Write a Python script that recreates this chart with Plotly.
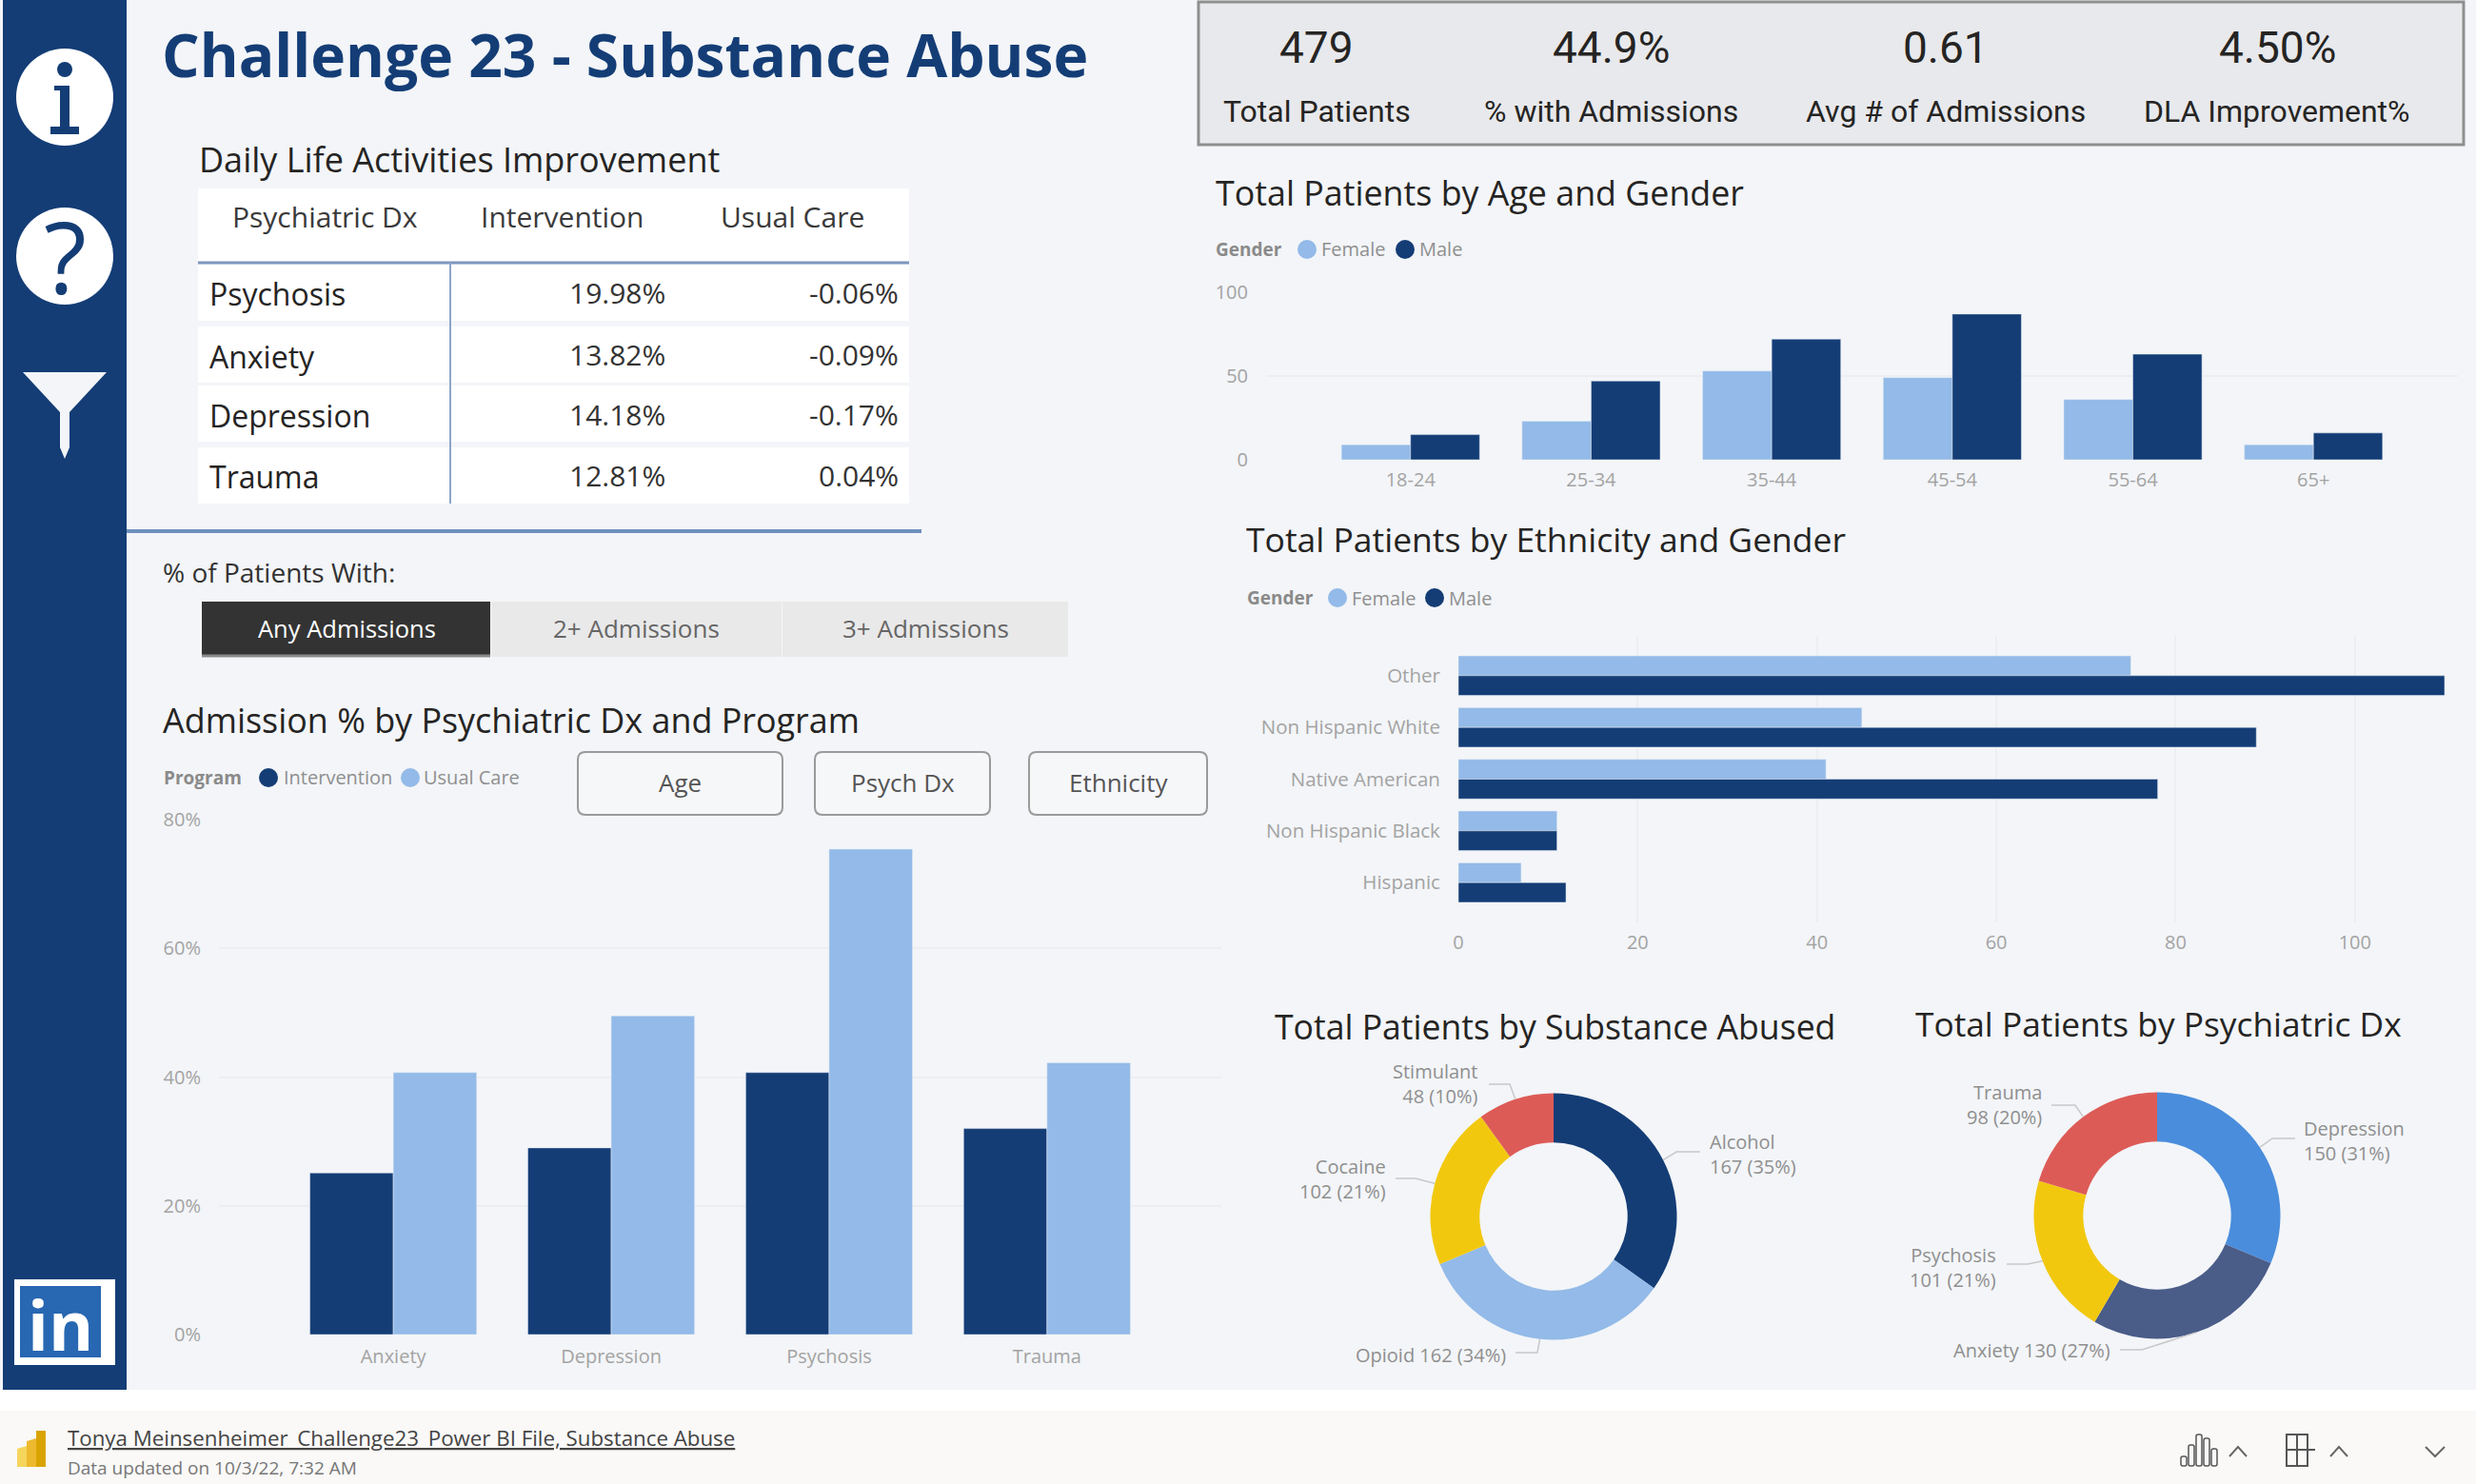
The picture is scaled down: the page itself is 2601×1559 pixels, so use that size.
import math
import plotly.graph_objects as go

W, H = 2601, 1559
FONT = "Open Sans"
NAVY, LIGHT = "#143D76", "#93BAE8"
BG = "#F3F5F8"
GRID = "#ECEEF1"
TICK = "#A3A3A3"

# ---------- data ----------
dx_cats = ["Anxiety", "Depression", "Psychosis", "Trauma"]
adm_intervention = [25.1, 29, 40.7, 32]
adm_usual = [40.7, 49.5, 75.4, 42.2]
age_cats = ["18-24", "25-34", "35-44", "45-54", "55-64", "65+"]
age_female = [9, 23, 53, 49, 36, 9]
age_male = [15, 47, 72, 87, 63, 16]
eth_cats = ["Other", "Non Hispanic White", "Native American", "Non Hispanic Black", "Hispanic"]
eth_female = [75, 45, 41, 11, 7]
eth_male = [110, 89, 78, 11, 12]
sub_labels = ["Alcohol", "Opioid", "Cocaine", "Stimulant"]
sub_values = [167, 162, 102, 48]
sub_colors = [NAVY, LIGHT, "#F2C80F", "#DD5B57"]
psy_labels = ["Depression", "Anxiety", "Psychosis", "Trauma"]
psy_values = [150, 130, 101, 98]
psy_colors = ["#4A8DDC", "#4A5C88", "#F2C80F", "#DD5B57"]
table_rows = ["Psychosis", "Anxiety", "Depression", "Trauma"]
table_int = ["19.98%", "13.82%", "14.18%", "12.81%"]
table_usual = ["-0.06%", "-0.09%", "-0.17%", "0.04%"]
kpi_values = ["479", "44.9%", "0.61", "4.50%"]
kpi_labels = ["Total Patients", "% with Admissions", "Avg # of Admissions", "DLA Improvement%"]

# ---------- helpers ----------
def X(p): return p / W
def Y(p): return 1 - p / H
def dom_x(a, b): return [X(a), X(b)]
def dom_y(top, bottom): return [Y(bottom), Y(top)]

shapes, annots = [], []
def rect(x0, y0, x1, y1, fill, line=None, lw=0, layer="below"):
    shapes.append(dict(type="rect", xref="paper", yref="paper", x0=X(x0), x1=X(x1), y0=Y(y0), y1=Y(y1),
                       fillcolor=fill, line=dict(color=line or fill, width=lw), layer=layer))
def path(points, fill=None, line=None, lw=1, close=False, layer="above"):
    d = "M " + " L ".join(f"{X(a):.5f},{Y(b):.5f}" for a, b in points) + (" Z" if close else "")
    shapes.append(dict(type="path", xref="paper", yref="paper", path=d, fillcolor=fill or "rgba(0,0,0,0)",
                       line=dict(color=line or "rgba(0,0,0,0)", width=lw), layer=layer))
def circle(cx, cy, r, fill, layer="above"):
    shapes.append(dict(type="circle", xref="paper", yref="paper", x0=X(cx-r), x1=X(cx+r), y0=Y(cy+r), y1=Y(cy-r),
                       fillcolor=fill, line=dict(width=0), layer=layer))
def text(x, y, s, size, color="#252423", anchor="left", font=FONT, align=None):
    annots.append(dict(xref="paper", yref="paper", x=X(x), y=Y(y), text=s, showarrow=False, xanchor=anchor,
                       yanchor="middle", align=align or anchor, font=dict(family=font, size=size, color=color)))
def rrect(x0, y0, x1, y1, r, fill, line, lw):
    xa, xb, ya, yb = X(x0), X(x1), Y(y0), Y(y1)
    rx, ry = r / W, r / H
    d = (f"M {xa+rx},{ya} L {xb-rx},{ya} Q {xb},{ya} {xb},{ya-ry} L {xb},{yb+ry} Q {xb},{yb} {xb-rx},{yb} "
         f"L {xa+rx},{yb} Q {xa},{yb} {xa},{yb+ry} L {xa},{ya-ry} Q {xa},{ya} {xa+rx},{ya} Z")
    shapes.append(dict(type="path", xref="paper", yref="paper", path=d, fillcolor=fill,
                       line=dict(color=line, width=lw), layer="above"))

# ---------- page furniture ----------
rect(0, 0, W, 1460, BG)
rect(0, 1482, W, H, "#FAF9F8")
rect(3, 0, 133, 1460, NAVY)

# sidebar icons
circle(68, 102, 51, "#FFFFFF")
circle(68, 73, 8, NAVY)
rect(63, 90, 73, 134, NAVY, layer="above")
rect(57, 90, 70, 95, NAVY, layer="above")
rect(53, 133, 83, 141, NAVY, layer="above")
circle(68, 269, 51, "#FFFFFF")
text(68, 269, "?", 104, NAVY, "center", "Open Sans")
path([(24, 391), (112, 391), (73, 433), (73, 470), (68, 482), (63, 470), (63, 433)], fill="#F3F5F8", close=True)
rect(15, 1344, 121, 1434, "#FFFFFF", layer="above")
rect(21, 1351, 106, 1426, "#2867B2", layer="above")
text(63, 1391, "<b>in</b>", 72, "#FFFFFF", "center", "Open Sans")

# title
text(168, 57, "<b>Challenge 23 - Substance Abuse</b>", 62.3, NAVY)

# table
text(207, 168, "Daily Life Activities Improvement", 36)
rect(208, 198, 955, 276, "#FFFFFF")
for top, bot in [(278, 337), (343, 402), (405, 464), (470, 529)]:
    rect(208, top, 955, bot, "#FFFFFF")
path([(208, 276), (955, 276)], line="#7E97BD", lw=3)
path([(473, 276), (473, 529)], line="#8FA5C6", lw=2)
text(341, 228, "Psychiatric Dx", 30, "#3A3A3A", "center")
text(591, 228, "Intervention", 30, "#3A3A3A", "center")
text(833, 228, "Usual Care", 30, "#3A3A3A", "center")
for yy, a, b, c in zip([309, 374, 436, 501], table_rows, table_int, table_usual):
    text(218, yy, a, 32)
    text(701, yy - 1, b, 30, "#333333", "right")
    text(946, yy - 1, c, 30, "#333333", "right")
path([(133, 558), (968, 558)], line="#6E90BF", lw=4)

# slicer
text(169, 601, "% of Patients With:", 28, "#333333")
rect(212, 632, 515, 690, "#333333")
rect(516, 632, 821, 690, "#E9E9E9")
rect(822, 632, 1122, 690, "#E9E9E9")
path([(212, 689), (515, 689)], line="#8A8A8A", lw=3)
text(364, 660, "Any Admissions", 25.5, "#FFFFFF", "center")
text(668, 660, "2+ Admissions", 26, "#666666", "center")
text(972, 660, "3+ Admissions", 26, "#666666", "center")

# KPI card
rect(1259, 2, 2588, 152, "#E8E9EC", "#8F8F8F", 3)
for cx, v, l in zip([1383, 1692, 2044, 2392], kpi_values, kpi_labels):
    text(cx, 50, v, 46, "#252423", "center", "Roboto")
    text(cx, 117, l, 32, "#252423", "center", "Roboto")

# chart titles
text(1275, 202, "Total Patients by Age and Gender", 35.8)
text(1307, 566, "Total Patients by Ethnicity and Gender", 35.5)
text(169, 757, "Admission % by Psychiatric Dx and Program", 35.9)
text(1337, 1078, "Total Patients by Substance Abused", 35.6)
text(2010, 1075, "Total Patients by Psychiatric Dx", 35.3)

# legends
def legend(title, tx, y, items):
    text(tx, y, f"<b>{title}</b>", 19, "#8A8A8A")
    for dot, tlab, lab, col in items:
        circle(dot, y, 10, col)
        text(tlab, y, lab, 20, "#8F8F8F")
legend("Gender", 1275, 262, [(1373, 1386, "Female", LIGHT), (1476, 1489, "Male", NAVY)])
legend("Gender", 1308, 628, [(1405, 1418, "Female", LIGHT), (1507, 1520, "Male", NAVY)])
legend("Program", 170, 817, [(282, 296, "Intervention", NAVY), (431, 443, "Usual Care", LIGHT)])

# buttons
for x0, x1, lab in [(607, 822, "Age"), (856, 1040, "Psych Dx"), (1081, 1268, "Ethnicity")]:
    rrect(x0, 790, x1, 856, 8, "#F6F7F9", "#9A9A9A", 2)
    text((x0 + x1) / 2, 822, lab, 26, "#555555", "center")

# footer
path([(18, 1541), (18, 1522), (28, 1519), (28, 1541)], fill="#F6D55C", close=True)
path([(28, 1541), (28, 1514), (38, 1511), (38, 1541)], fill="#EDB92E", close=True)
path([(38, 1541), (38, 1503), (48, 1503), (48, 1541)], fill="#D9A400", close=True)
text(69, 1510, "<u>Tonya Meinsenheimer_Challenge23_Power BI File, Substance Abuse</u>", 22.3, "#444444")
text(69, 1542, "Data updated on 10/3/22, 7:32 AM", 19, "#777777")
for xa, top in [(2294, 1530), (2302, 1518), (2310, 1507), (2318, 1511), (2326, 1522)]:
    rrect(xa - 3, top, xa + 3, 1540, 2, "rgba(0,0,0,0)", "#555555", 1.5)
path([(2342, 1530), (2351, 1520), (2360, 1530)], line="#666666", lw=2)
rect(2402, 1507, 2424, 1540, "rgba(0,0,0,0)", "#555555", 2, "above")
path([(2402, 1523), (2432, 1523)], line="#555555", lw=2)
path([(2413, 1507), (2413, 1540)], line="#555555", lw=2)
path([(2448, 1530), (2457, 1520), (2466, 1530)], line="#666666", lw=2)
path([(2548, 1520), (2558, 1530), (2568, 1520)], line="#666666", lw=2)

# ---------- charts ----------
fig = go.Figure()
fig.add_bar(x=dx_cats, y=adm_intervention, marker_color=NAVY, xaxis="x", yaxis="y", name="Intervention")
fig.add_bar(x=dx_cats, y=adm_usual, marker_color=LIGHT, xaxis="x", yaxis="y", name="Usual Care")
fig.add_bar(x=age_cats, y=age_female, marker_color=LIGHT, xaxis="x2", yaxis="y2", name="Female")
fig.add_bar(x=age_cats, y=age_male, marker_color=NAVY, xaxis="x2", yaxis="y2", name="Male")
fig.add_bar(y=eth_cats, x=eth_female, orientation="h", marker_color=LIGHT, xaxis="x3", yaxis="y3", name="Female")
fig.add_bar(y=eth_cats, x=eth_male, orientation="h", marker_color=NAVY, xaxis="x3", yaxis="y3", name="Male")

PIE_R = 129.5
SUB_C = (1632, 1278)
PSY_C = (2266, 1277)
def pie(labels, values, colors, cx, cy):
    fig.add_pie(labels=labels, values=values, hole=0.6, sort=False, direction="clockwise", rotation=0,
                textinfo="none", showlegend=False, marker=dict(colors=colors, line=dict(width=0)),
                domain=dict(x=dom_x(cx - PIE_R, cx + PIE_R), y=dom_y(cy - PIE_R, cy + PIE_R)))
pie(sub_labels, sub_values, sub_colors, *SUB_C)
pie(psy_labels, psy_values, psy_colors, *PSY_C)

# donut labels with leader lines; each line starts on the slice's mid-angle
def donut_labels(labels, values, cx, cy, places):
    total, run = sum(values), 0
    for lab, v, (tx, ty, anchor, oneline, elbow, end) in zip(labels, values, places):
        ang = math.radians((run + v / 2) / total * 360)
        run += v
        start = (cx + PIE_R * math.sin(ang), cy - PIE_R * math.cos(ang))
        sep = " " if oneline else "<br>"
        text(tx, ty, f"{lab}{sep}{v} ({round(100 * v / total)}%)", 20, "#8F8F8F", anchor)
        path([start, elbow, end], line="#C8C8C8", lw=1.5)

donut_labels(sub_labels, sub_values, *SUB_C, [
    (1794, 1212, "left", False, (1761, 1210), (1786, 1210)),
    (1584, 1423, "right", True, (1615, 1421), (1592, 1421)),
    (1458, 1238, "right", False, (1487, 1238), (1466, 1238)),
    (1555, 1138, "right", False, (1586, 1139), (1564, 1139)),
])
donut_labels(psy_labels, psy_values, *PSY_C, [
    (2418, 1198, "left", False, (2387, 1196), (2411, 1196)),
    (2219, 1418, "right", True, (2250, 1418), (2227, 1418)),
    (2099, 1331, "right", False, (2130, 1328), (2108, 1328)),
    (2147, 1160, "right", False, (2180, 1161), (2155, 1161)),
])

tickf = dict(family=FONT, size=20, color=TICK)
def cat_x(domain, n, tl):
    return dict(domain=domain, type="category", range=[-0.8, n - 0.2], showgrid=False, zeroline=False,
                showline=False, tickfont=tickf, ticks="outside", ticklen=tl, tickcolor="rgba(0,0,0,0)", categoryorder="trace")
def val_y(domain, rng, dtick, suffix=""):
    return dict(domain=domain, range=rng, dtick=dtick, tick0=0, ticksuffix=suffix, showgrid=True, gridcolor=GRID,
                gridwidth=2, zeroline=False, showline=False, tickfont=tickf, ticks="outside", ticklen=14,
                tickcolor="rgba(0,0,0,0)")

fig.update_layout(
    width=W, height=H, autosize=False, margin=dict(l=0, r=0, t=0, b=0, pad=0, autoexpand=False),
    paper_bgcolor="#FFFFFF", plot_bgcolor="rgba(0,0,0,0)", showlegend=False,
    barmode="group", bargap=0.235, bargroupgap=0, shapes=shapes, annotations=annots,
    font=dict(family=FONT),
    xaxis=cat_x(dom_x(230, 1283), 4, 5), yaxis=val_y(dom_y(861, 1402), [0, 80], 20, "%"),
    xaxis2=dict(cat_x(dom_x(1330, 2582), 6, 3), anchor="y2"), yaxis2=dict(val_y(dom_y(307, 483), [0, 100], 50), anchor="x2"),
    xaxis3=dict(domain=dom_x(1532, 2568), range=[0, 110], dtick=20, tick0=0, anchor="y3", showgrid=True, gridcolor=GRID,
                gridwidth=2, zeroline=False, showline=False, tickfont=tickf, ticks="outside", ticklen=3,
                tickcolor="rgba(0,0,0,0)"),
    yaxis3=dict(domain=dom_y(668, 969), anchor="x3", type="category", range=[4.77, -0.77], categoryorder="array",
                categoryarray=eth_cats, showgrid=False, zeroline=False, showline=False,
                tickfont=dict(tickf, size=20.5), ticks="outside", ticklen=14, tickcolor="rgba(0,0,0,0)"),
)
fig.write_html("out.html", config=dict(displayModeBar=False),
               post_script="document.body.style.margin='0';document.documentElement.style.overflow='hidden';")
